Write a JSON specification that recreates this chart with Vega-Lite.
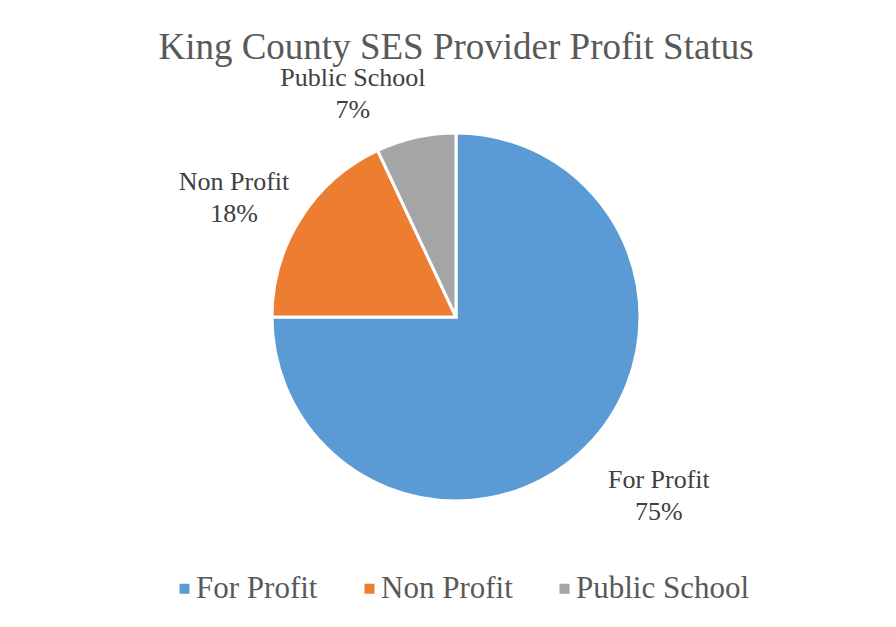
{
  "$schema": "https://vega.github.io/schema/vega-lite/v6.json",
  "autosize": {"type": "none"},
  "width": 880,
  "height": 474,
  "padding": {"left": 16, "top": 80, "right": 0, "bottom": 73},
  "background": "white",
  "title": {
    "text": "King County SES Provider Profit Status",
    "font": "Liberation Serif",
    "fontSize": 37,
    "fontWeight": "normal",
    "color": "#595959",
    "anchor": "middle",
    "offset": -2
  },
  "data": {
    "values": [
      {"category": "For Profit", "value": 75, "label": "For Profit\n75%"},
      {"category": "Non Profit", "value": 18, "label": "Non Profit\n18%"},
      {"category": "Public School", "value": 7, "label": "Public School\n7%"}
    ]
  },
  "config": {"view": {"stroke": null}},
  "resolve": {"scale": {"theta": "independent"}},
  "layer": [
    {
      "mark": {"type": "arc", "outerRadius": 184, "stroke": "white", "strokeWidth": 3},
      "encoding": {
        "theta": {"field": "value", "type": "quantitative", "stack": true},
        "order": {"field": "category", "sort": "ascending"},
        "color": {
          "field": "category",
          "type": "nominal",
          "scale": {
            "domain": ["For Profit", "Non Profit", "Public School"],
            "range": ["#5B9BD5", "#ED7D31", "#A5A5A5"]
          },
          "legend": {
            "title": null,
            "orient": "none",
            "direction": "horizontal",
            "legendX": 153,
            "legendY": 493,
            "symbolType": "square",
            "symbolSize": 100,
            "symbolStrokeWidth": 0,
            "labelFont": "Liberation Serif",
            "labelFontSize": 31,
            "labelColor": "#595959",
            "labelOffset": -4,
            "columnPadding": 36,
            "labelLimit": 400
          }
        }
      }
    },
    {
      "mark": {
        "type": "text",
        "radius": 260,
        "font": "Liberation Serif",
        "fontSize": 26,
        "color": "#404040",
        "lineBreak": "\n",
        "lineHeight": 32,
        "align": "center",
        "baseline": "middle"
      },
      "encoding": {
        "theta": {
          "field": "value",
          "type": "quantitative",
          "stack": true,
          "scale": {"type": "pow", "exponent": 0.37, "domain": [0, 100], "range": [-6.4211, 6.0388]}
        },
        "order": {"field": "category", "sort": "ascending"},
        "detail": {"field": "category", "type": "nominal"},
        "text": {"field": "label", "type": "nominal"}
      }
    }
  ]
}
